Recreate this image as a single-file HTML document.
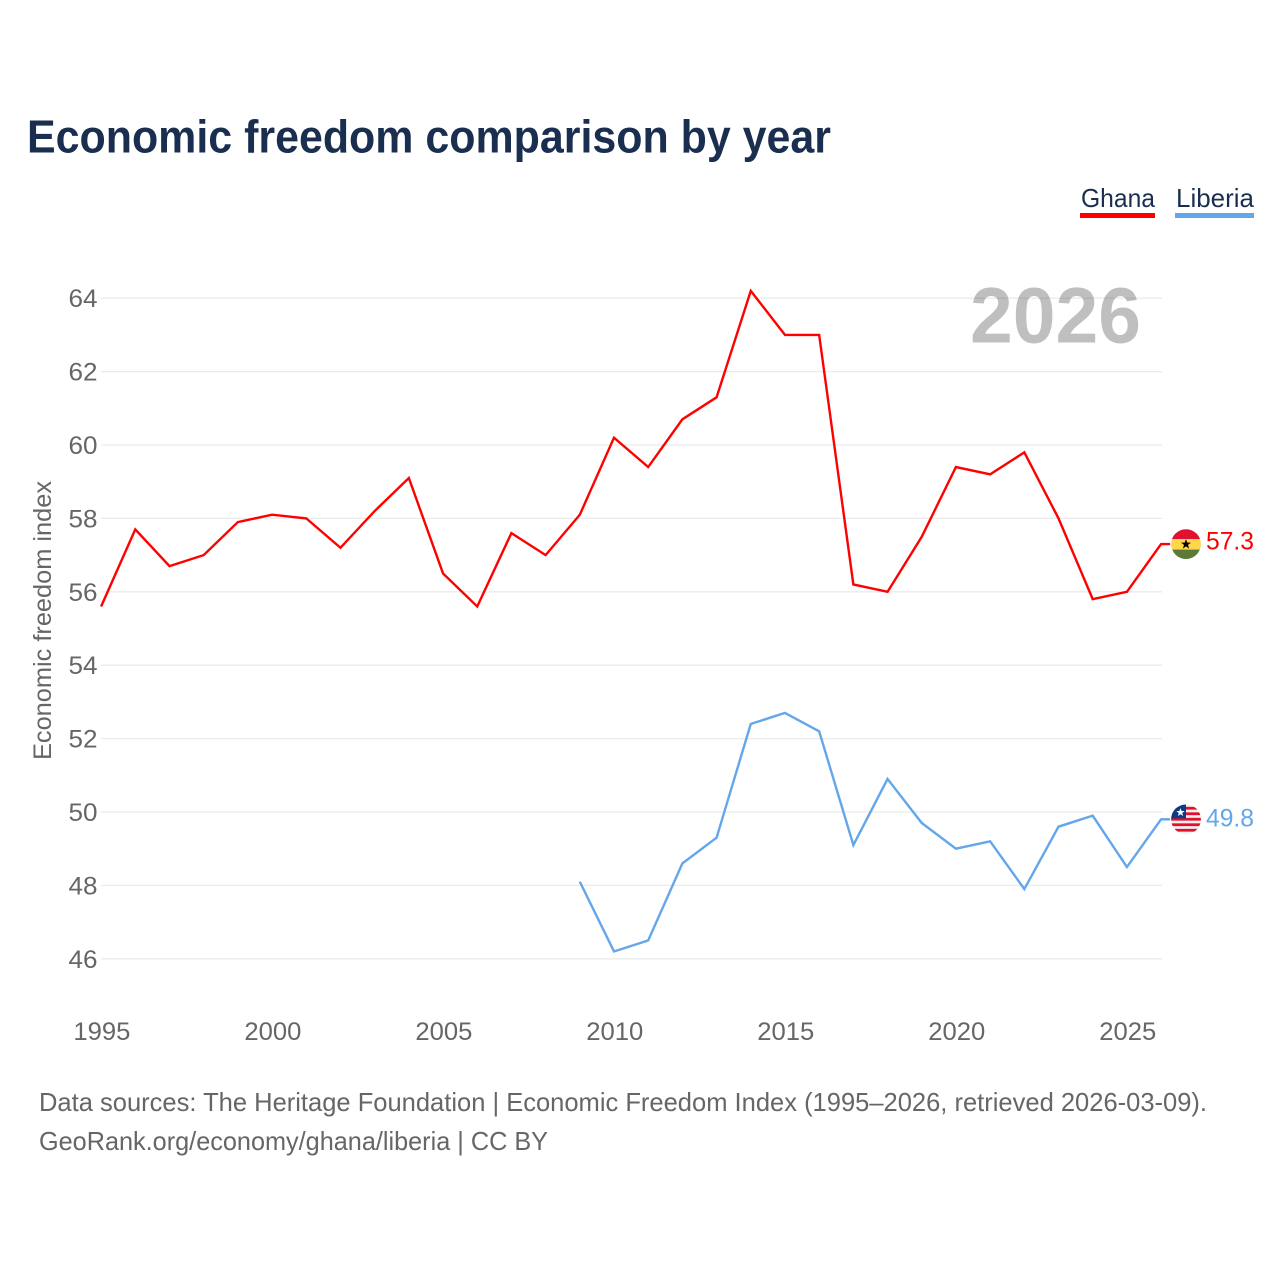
<!DOCTYPE html>
<html lang="en">
<head>
<meta charset="utf-8">
<title>Economic freedom comparison by year</title>
<style>
html,body{margin:0;padding:0;background:#fff;width:1280px;height:1280px;overflow:hidden}
svg{display:block}
text{font-family:"Liberation Sans",sans-serif}
</style>
</head>
<body>
<svg id="chart" xmlns="http://www.w3.org/2000/svg" width="1280" height="1280" viewBox="0 0 1280 1280">
  <defs>
    <clipPath id="flag-clip"><circle cx="0" cy="0" r="14.9"></circle></clipPath>
  </defs>
  <text x="27" y="152.5" font-size="46" font-weight="700" fill="#1a2f50" textLength="804" lengthAdjust="spacingAndGlyphs">Economic freedom comparison by year</text>

  <g>
    <text x="1081" y="207" font-size="26" fill="#1a2f50" textLength="74" lengthAdjust="spacingAndGlyphs">Ghana</text>
    <rect x="1080" y="213" width="75" height="5" fill="#ff0000"></rect>
  </g>
  <g>
    <text x="1176" y="207" font-size="26" fill="#1a2f50" textLength="78" lengthAdjust="spacingAndGlyphs">Liberia</text>
    <rect x="1175" y="213" width="79" height="5" fill="#63a6ea"></rect>
  </g>

  <g id="grid"></g>
  <g id="y-ticks"></g>
  <g id="x-ticks"></g>
  <text x="1141" y="342.5" text-anchor="end" font-size="79" font-weight="700" fill="#000000" fill-opacity="0.25" textLength="171" lengthAdjust="spacingAndGlyphs">2026</text>
  <text transform="translate(51,760) rotate(-90)" font-size="25" fill="#666666" textLength="279" lengthAdjust="spacingAndGlyphs">Economic freedom index</text>
  <g id="series"></g>
  <g id="end-markers"></g>

  <text x="39" y="1111" font-size="26" fill="#666666" textLength="1168" lengthAdjust="spacingAndGlyphs">Data sources: The Heritage Foundation | Economic Freedom Index (1995–2026, retrieved 2026-03-09).</text>
  <text x="39" y="1150" font-size="26" fill="#666666" textLength="509" lengthAdjust="spacingAndGlyphs">GeoRank.org/economy/ghana/liberia | CC BY</text>
</svg>
<script>
const years = [1995,1996,1997,1998,1999,2000,2001,2002,2003,2004,2005,2006,2007,2008,2009,2010,2011,2012,2013,2014,2015,2016,2017,2018,2019,2020,2021,2022,2023,2024,2025,2026];
const ghanaValues = [55.6,57.7,56.7,57.0,57.9,58.1,58.0,57.2,58.2,59.1,56.5,55.6,57.6,57.0,58.1,60.2,59.4,60.7,61.3,64.2,63.0,63.0,56.2,56.0,57.5,59.4,59.2,59.8,58.0,55.8,56.0,57.3];
const liberiaValues = [null,null,null,null,null,null,null,null,null,null,null,null,null,null,48.1,46.2,46.5,48.6,49.3,52.4,52.7,52.2,49.1,50.9,49.7,49.0,49.2,47.9,49.6,49.9,48.5,49.8];
const yTickValues = [46,48,50,52,54,56,58,60,62,64];
const xTickValues = [1995,2000,2005,2010,2015,2020,2025];

const NS = 'http://www.w3.org/2000/svg';
const xScale = function (year) { return 101.1 + (year - 1995) * (1161.1 - 101.1) / 31; };
const yScale = function (v) { return 958.8 - (v - 46) * (958.8 - 298.2) / 18; };

function make(tag, attrs, parent, content) {
  const el = document.createElementNS(NS, tag);
  for (const key in attrs) { el.setAttribute(key, attrs[key]); }
  if (content !== undefined) { el.textContent = content; }
  parent.appendChild(el);
  return el;
}

const gridGroup = document.getElementById('grid');
const yTickGroup = document.getElementById('y-ticks');
yTickValues.forEach(function (v) {
  const line = make('line', {x1: 101, x2: 1162, y1: yScale(v), y2: yScale(v), stroke: '#ebebeb', 'stroke-width': 1.3}, gridGroup);
  
  
  const label = make('text', {x: 97.5, y: yScale(v) + 9, 'text-anchor': 'end', 'font-size': 25, fill: '#666666', textLength: 29, lengthAdjust: 'spacingAndGlyphs'}, yTickGroup, String(v));
  
  
});

const xTickGroup = document.getElementById('x-ticks');
xTickValues.forEach(function (year) {
  const label = make('text', {x: xScale(year) + 0.8, y: 1040, 'text-anchor': 'middle', 'font-size': 25, fill: '#666666', textLength: 57, lengthAdjust: 'spacingAndGlyphs'}, xTickGroup, String(year));
  
  
});

function linePath(values) {
  let d = '';
  values.forEach(function (v, i) {
    if (v === null) { return; }
    d += (d ? 'L' : 'M') + xScale(years[i]).toFixed(2) + ' ' + yScale(v).toFixed(2);
  });
  return d + 'H' + (xScale(years[years.length - 1]) + 9).toFixed(2);
}

const seriesGroup = document.getElementById('series');
const ghanaLine = make('path', {d: linePath(ghanaValues), fill: 'none', stroke: '#ff0000', 'stroke-width': 2.4, 'stroke-linejoin': 'miter'}, seriesGroup);


const liberiaLine = make('path', {d: linePath(liberiaValues), fill: 'none', stroke: '#63a6ea', 'stroke-width': 2.4, 'stroke-linejoin': 'miter'}, seriesGroup);



const markerGroup = document.getElementById('end-markers');
const ghanaLast = ghanaValues[ghanaValues.length - 1];
const liberiaLast = liberiaValues[liberiaValues.length - 1];

const ghanaFlag = make('g', {transform: 'translate(1186,' + yScale(ghanaLast).toFixed(2) + ')', 'clip-path': 'url(#flag-clip)'}, markerGroup);


make('rect', {x: -16, y: -16, width: 32, height: 11, fill: '#e0102f'}, ghanaFlag);
make('rect', {x: -16, y: -5, width: 32, height: 10.5, fill: '#ffd54a'}, ghanaFlag);
make('rect', {x: -16, y: 5.5, width: 32, height: 11, fill: '#5a7a35'}, ghanaFlag);
make('polygon', {points: '0,-5 1.3,-1.5 5,-1.5 2,0.8 3.1,4.5 0,2.3 -3.1,4.5 -2,0.8 -5,-1.5 -1.3,-1.5', fill: '#000000'}, ghanaFlag);

const liberiaFlag = make('g', {transform: 'translate(1186,' + yScale(liberiaLast).toFixed(2) + ')', 'clip-path': 'url(#flag-clip)'}, markerGroup);


make('rect', {x: -16, y: -16, width: 32, height: 32, fill: '#f4f0ee'}, liberiaFlag);
[-12.5, -7, -1.5, 4, 9.5].forEach(function (stripeY) {
  make('rect', {x: -16, y: stripeY, width: 32, height: 2.8, fill: '#e0102f'}, liberiaFlag);
});
make('rect', {x: -16, y: -16, width: 16, height: 15, fill: '#0b3a86'}, liberiaFlag);
make('polygon', {points: '0,-4.2 1.1,-1.3 4.2,-1.3 1.7,0.6 2.6,3.6 0,1.9 -2.6,3.6 -1.7,0.6 -4.2,-1.3 -1.1,-1.3', transform: 'translate(-5.5,-7)', fill: '#ffffff'}, liberiaFlag);

const ghanaValueLabel = make('text', {x: 1254, y: yScale(ghanaLast) + 5.5, 'text-anchor': 'end', 'font-size': 25, fill: '#ff0000', textLength: 48, lengthAdjust: 'spacingAndGlyphs'}, markerGroup, ghanaLast.toFixed(1));


const liberiaValueLabel = make('text', {x: 1254, y: yScale(liberiaLast) + 7, 'text-anchor': 'end', 'font-size': 25, fill: '#63a6ea', textLength: 48, lengthAdjust: 'spacingAndGlyphs'}, markerGroup, liberiaLast.toFixed(1));


</script>
</body>
</html>
